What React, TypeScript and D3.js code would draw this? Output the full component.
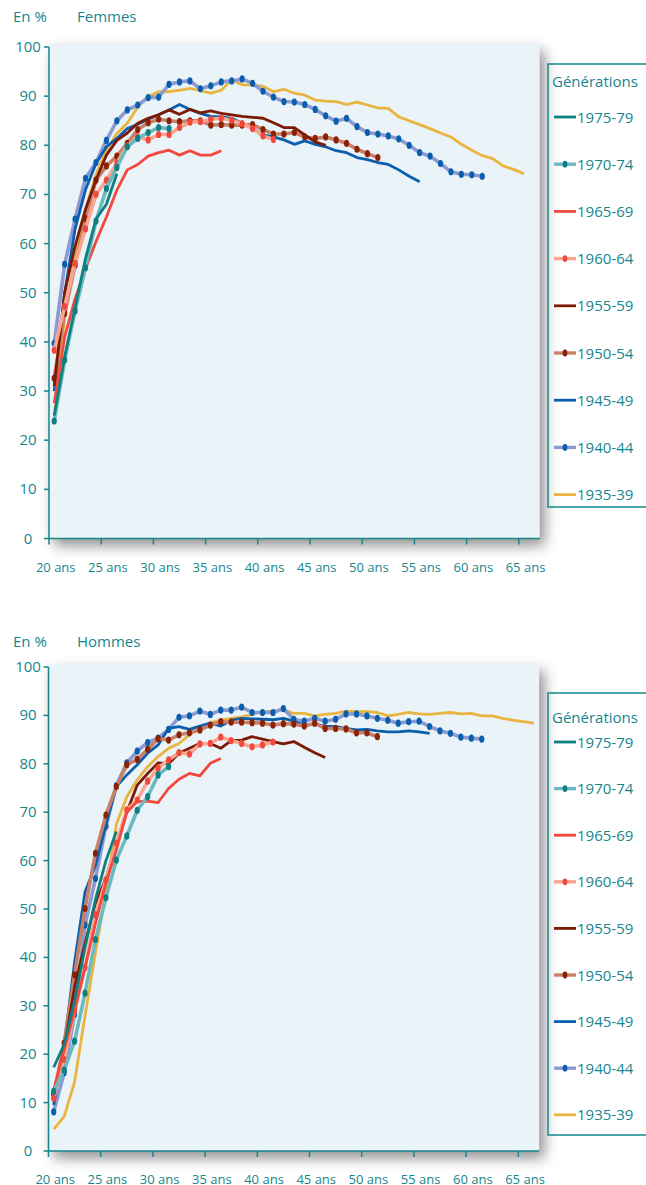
import React from 'react';
import * as d3 from 'd3';

// ---------- DATA ----------
const generations = ['1975-79', '1970-74', '1965-69', '1960-64', '1955-59', '1950-54', '1945-49', '1940-44', '1935-39'];
const hasMarkers = [false, true, false, true, false, true, false, true, false];
const lineColors = ['#0E8080', '#6CBAC0', '#F2483D', '#F9A58F', '#7D1A06', '#C8806A', '#0A5EAE', '#8C9AD2', '#E9B540'];
const markerColors = ['', '#0E7F82', '', '#F2483D', '', '#8A2205', '', '#0A5EAE', ''];
const firstAge = 20;
const xTickAges = [20, 25, 30, 35, 40, 45, 50, 55, 60, 65];
const yTickValues = [0, 10, 20, 30, 40, 50, 60, 70, 80, 90, 100];

// Femmes (values from age 20, one per year)
const f1975_79 = [25, 37, 47, 57, 65, 68, 74.2];
const f1970_74 = [23.9, 36.3, 46.3, 55.1, 64.6, 71.2, 75.5, 79.7, 81.4, 82.6, 83.6, 83.4];
const f1965_69 = [27.5, 41, 48.8, 54.9, 60.4, 65.4, 70.9, 75.0, 76.1, 77.8, 78.5, 79.0, 78.0, 78.9, 78.0, 78.0, 78.9];
const f1960_64 = [38.3, 47.2, 56, 63, 70.0, 72.9, 76.4, 79.9, 81.7, 81.1, 82.2, 82.2, 83.6, 84.7, 84.8, 85.3, 85.5, 85.1, 84.4, 83.4, 81.9, 81.2];
const f1955_59 = [31, 50, 59.5, 67, 73, 78, 81, 82.5, 84.5, 85.5, 86.2, 87.2, 86.3, 87.3, 86.6, 87.0, 86.5, 86.2, 85.9, 85.7, 85.5, 84.6, 83.6, 83.6, 82.1, 80.7, 80.0];
const f1950_54 = [32.6, 45.8, 55.6, 65.1, 72.9, 75.8, 77.8, 80.4, 83.2, 84.6, 85.3, 85.0, 84.8, 85.0, 85.0, 84.1, 84.2, 84.1, 84.1, 84.2, 83.2, 82.3, 82.3, 82.6, 81.7, 81.4, 81.7, 81.1, 80.4, 79.2, 78.3, 77.5];
const f1945_49 = [30, 50, 63, 71, 76.3, 79.7, 81.4, 83.4, 84.3, 85.3, 86.2, 87.2, 88.3, 87.3, 86.5, 85.9, 85.8, 85.5, 84.5, 83.4, 82.1, 81.7, 81.1, 80.2, 80.9, 80.2, 79.7, 78.9, 78.5, 77.5, 77.1, 76.5, 76.1, 75.0, 73.7, 72.6];
const f1940_44 = [39.7, 55.8, 65, 73.3, 76.5, 81, 85, 87.2, 88.2, 89.7, 89.8, 92.4, 92.9, 93.1, 91.5, 92.1, 92.9, 93.1, 93.5, 92.6, 91.0, 89.8, 88.9, 88.8, 88.3, 87.3, 86.0, 84.9, 85.5, 83.8, 82.6, 82.3, 81.9, 81.3, 80.0, 78.5, 77.8, 76.3, 74.6, 74.1, 74.0, 73.7];
const f1935_39 = [25, 45, 57, 67, 74, 79, 82.4, 84.5, 87.8, 89.9, 90.9, 90.9, 91.2, 91.6, 91.1, 90.6, 91.2, 93.3, 92.3, 92.3, 92.0, 90.9, 91.4, 90.6, 90.2, 89.2, 89.0, 88.9, 88.3, 88.8, 88.2, 87.6, 87.5, 85.8, 85.0, 84.2, 83.4, 82.5, 81.7, 80.2, 79.0, 77.9, 77.3, 75.8, 75.1, 74.2];

// Hommes
const h1975_79 = [17.3, 22, 31, 42, 52, 60, 66];
const h1970_74 = [12.3, 16.7, 22.7, 32.6, 43.7, 52.3, 60.1, 65.1, 70.4, 73.2, 77.7, 79.4];
const h1965_69 = [12.6, 20.9, 29, 38, 47, 55.4, 62.2, 70, 72.2, 72.3, 72.0, 74.9, 76.8, 78.0, 77.5, 80.1, 81.1];
const h1960_64 = [10.9, 18.9, 29, 37.9, 48.8, 56.0, 63.6, 70.5, 72.5, 76.4, 79.1, 80.8, 82.3, 82.0, 84.1, 84.2, 85.5, 84.8, 84.2, 83.5, 83.9, 84.5];
const h1955_59 = [11.5, 21, 33.9, 42.9, 51.2, 56.3, 63.6, 70, 75.6, 78.0, 80.2, 80.0, 82.2, 83.2, 84.2, 84.2, 83.2, 84.8, 84.9, 85.6, 85.1, 84.6, 84.1, 84.6, 83.4, 82.3, 81.3];
const h1950_54 = [11.6, 22.3, 36.4, 50.1, 61.5, 69.4, 75.3, 79.8, 80.9, 83.0, 85.2, 84.9, 86.0, 86.4, 87.0, 88.0, 88.7, 88.6, 88.6, 88.5, 88.4, 88.0, 88.3, 88.2, 87.8, 88.4, 87.3, 87.3, 87.2, 86.4, 86.4, 85.6];
const h1945_49 = [9.5, 21.8, 39, 53.5, 59, 67.5, 75.3, 77.7, 79.8, 82.2, 83.9, 87.3, 87.7, 87.1, 87.8, 88.4, 87.8, 89.0, 89.4, 89.3, 89.2, 89.1, 89.4, 88.8, 88.0, 88.2, 87.8, 87.7, 87.3, 87.0, 87.1, 86.8, 86.6, 86.6, 86.8, 86.6, 86.3];
const h1940_44 = [8.1, 16.2, 28.2, 46.7, 56.3, 67.1, 75.5, 80.2, 82.6, 84.4, 85.3, 87.1, 89.6, 89.9, 90.9, 90.2, 91.1, 91.1, 91.7, 90.6, 90.6, 90.6, 91.4, 89.2, 88.8, 89.4, 88.8, 89.2, 90.3, 90.3, 89.9, 89.4, 89.0, 88.4, 88.7, 88.8, 87.7, 86.8, 86.3, 85.5, 85.3, 85.1];
const h1935_39 = [4.5, 7.1, 14.3, 28, 41, 53.5, 67.5, 73.2, 76.7, 79.4, 81.5, 83.2, 84.2, 86.0, 87.3, 88.5, 89.0, 89.4, 89.7, 90.2, 90.8, 90.9, 91.2, 90.4, 90.4, 89.9, 90.2, 90.4, 90.9, 90.8, 90.8, 90.6, 89.9, 90.2, 90.6, 90.3, 90.2, 90.4, 90.6, 90.3, 90.4, 89.9, 89.9, 89.4, 89.0, 88.7, 88.4];

const femmesSeries = [f1975_79, f1970_74, f1965_69, f1960_64, f1955_59, f1950_54, f1945_49, f1940_44, f1935_39];
const hommesSeries = [h1975_79, h1970_74, h1965_69, h1960_64, h1955_59, h1950_54, h1945_49, h1940_44, h1935_39];

// ---------- STYLE ----------
const TEAL = '#16868D';
const FONT = "'Open Sans', 'Noto Sans', sans-serif";

type PanelProps = {
  id: string;
  title: string;
  series: number[][];
  titleY: number;
  yTop: number;
  yBottom: number;
  xLeft: number;
  legendTop: number;
  legendBottom: number;
  legendTitleY: number;
  legendFirstY: number;
  legendStep: number;
};

function Panel(p: PanelProps) {
  const x = d3.scaleLinear().domain([20, 67]).range([p.xLeft, p.xLeft + 47 * 10.44]);
  const y = d3.scaleLinear().domain([0, 100]).range([p.yBottom, p.yTop]);
  const line = d3
    .line<number>()
    .x((_, i) => x(firstAge + i + 0.5))
    .y((v) => y(v));
  const plotRight = x(67);
  const plotTop = p.yTop - 3;
  const order = d3.range(generations.length).reverse();

  return (
    <g>
      <text x={13} y={p.titleY} fill={TEAL} fontSize={15} fontFamily={FONT}>En %</text>
      <text x={77} y={p.titleY} fill={TEAL} fontSize={15} fontFamily={FONT}>{p.title}</text>

      {/* shadow + plot background */}
      <rect
        x={p.xLeft + 5}
        y={plotTop + 7}
        width={plotRight - p.xLeft}
        height={p.yBottom - plotTop}
        fill="#7a7a7a"
        opacity={0.85}
        filter="url(#blurShadow)"
      />
      <rect x={p.xLeft} y={plotTop} width={plotRight - p.xLeft} height={p.yBottom - plotTop} fill="#EAF3F7" />

      {/* series */}
      {order.map((k) => (
        <g key={generations[k]}>
          <path
            d={line(p.series[k]) || ''}
            fill="none"
            stroke={lineColors[k]}
            strokeWidth={hasMarkers[k] ? 3.6 : 2.8}
            strokeLinejoin="round"
          />
          {hasMarkers[k] &&
            p.series[k].map((v, i) => (
              <ellipse
                key={i}
                cx={x(firstAge + i + 0.5)}
                cy={y(v)}
                rx={2.6}
                ry={3.6}
                fill={markerColors[k]}
              />
            ))}
        </g>
      ))}

      {/* axes */}
      <line x1={p.xLeft} x2={p.xLeft} y1={p.yTop} y2={p.yBottom} stroke={TEAL} strokeWidth={1.5} />
      <line x1={p.xLeft} x2={plotRight} y1={p.yBottom} y2={p.yBottom} stroke={TEAL} strokeWidth={1.5} />
      {yTickValues.map((v) => (
        <g key={'y' + v}>
          <line x1={p.xLeft - 5} x2={p.xLeft} y1={y(v)} y2={y(v)} stroke={TEAL} strokeWidth={1.5} />
          <text x={28} y={y(v) + 5} textAnchor="middle" fill={TEAL} fontSize={15} fontFamily={FONT}>
            {v}
          </text>
        </g>
      ))}
      {xTickAges.map((a) => (
        <g key={'x' + a}>
          <line x1={x(a)} x2={x(a)} y1={p.yBottom} y2={p.yBottom + 6} stroke={TEAL} strokeWidth={1.5} />
          <text x={x(a + 0.5) + 1.5} y={p.yBottom + 33} textAnchor="middle" fill={TEAL} fontSize={13} fontFamily={FONT}>
            {a} ans
          </text>
        </g>
      ))}

      {/* legend */}
      <rect
        x={548}
        y={p.legendTop}
        width={120}
        height={p.legendBottom - p.legendTop}
        fill="none"
        stroke={TEAL}
        strokeWidth={1.5}
      />
      <text x={552} y={p.legendTitleY} fill={TEAL} fontSize={15} fontFamily={FONT}>Générations</text>
      {generations.map((g, k) => {
        const cy = p.legendFirstY + k * p.legendStep;
        return (
          <g key={'lg' + g}>
            <line x1={554} x2={576} y1={cy} y2={cy} stroke={lineColors[k]} strokeWidth={hasMarkers[k] ? 3.4 : 2.8} />
            {hasMarkers[k] && <ellipse cx={565} cy={cy} rx={2.4} ry={3.4} fill={markerColors[k]} />}
            <text x={577} y={cy + 5.5} fill={TEAL} fontSize={15} fontFamily={FONT}>{g}</text>
          </g>
        );
      })}
    </g>
  );
}

export default function App() {
  return (
    <svg
      width={646}
      height={1185}
      style={{ position: 'absolute', left: 0, top: 0, background: '#fff' }}
    >
      <defs>
        <filter id="blurShadow" x="-20%" y="-20%" width="140%" height="140%">
          <feGaussianBlur stdDeviation="7" />
        </filter>
      </defs>
      <rect x={0} y={0} width={646} height={1185} fill="#fff" />
      <Panel
        id="f"
        title="Femmes"
        series={femmesSeries}
        titleY={22}
        yTop={47}
        yBottom={538.5}
        xLeft={49}
        legendTop={64}
        legendBottom={507}
        legendTitleY={87}
        legendFirstY={117}
        legendStep={47.2}
      />
      <Panel
        id="h"
        title="Hommes"
        series={hommesSeries}
        titleY={647}
        yTop={667}
        yBottom={1151}
        xLeft={48.5}
        legendTop={693}
        legendBottom={1135}
        legendTitleY={723}
        legendFirstY={742}
        legendStep={46.6}
      />
    </svg>
  );
}
